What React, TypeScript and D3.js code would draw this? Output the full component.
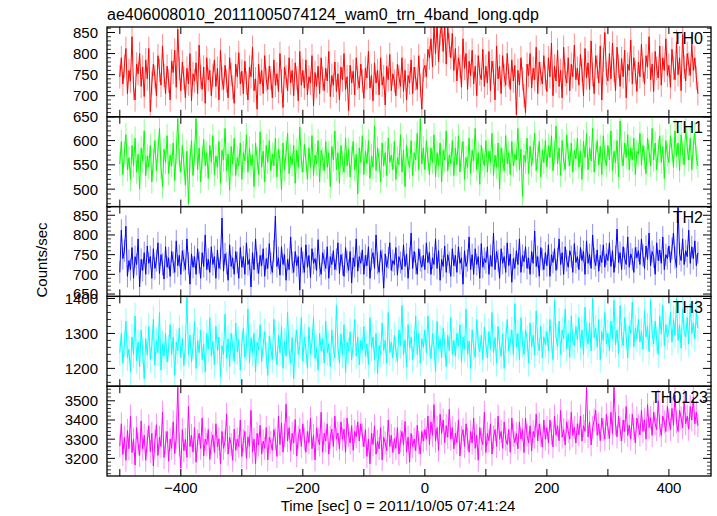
import React from 'react';
import * as d3 from 'd3';

// Time axis of the samples: first sample time and spacing (seconds)
const T_START = -500;
const T_STEP = 2.5;

const TH0 = [
  745, 790, 728, 770, 812, 705, 760, 735, 840, 718, 690, 775, 752, 800, 722, 768, 698, 785, 740, 812,
  662, 730, 775, 745, 700, 795, 760, 725, 818, 748, 705, 770, 735, 690, 782, 755, 808, 720, 858, 765,
  712, 780, 742, 695, 765, 728, 800, 688, 752, 735, 778, 705, 820, 745, 715, 768, 682, 790, 738, 760,
  700, 748, 785, 722, 765, 690, 808, 740, 715, 772, 735, 695, 790, 750, 720, 682, 775, 745, 802, 728,
  758, 705, 782, 730, 690, 768, 745, 815, 712, 740, 668, 775, 728, 760, 705, 795, 738, 715, 770, 742,
  695, 785, 725, 752, 710, 800, 735, 672, 768, 745, 712, 790, 730, 760, 700, 778, 742, 688, 805, 725,
  760, 718, 785, 702, 745, 730, 795, 676, 755, 722, 770, 705, 790, 740, 712, 765, 735, 805, 698, 748,
  725, 780, 710, 752, 690, 768, 738, 800, 715, 745, 665, 772, 730, 758, 702, 790, 742, 718, 775, 735,
  694, 765, 742, 805, 718, 748, 688, 778, 730, 760, 702, 790, 725, 745, 678, 770, 738, 798, 712, 752,
  735, 700, 775, 745, 722, 790, 710, 760, 690, 748, 730, 785, 705, 768, 740, 715, 795, 725, 668, 760,
  772, 745, 810, 790, 835, 768, 865, 800, 870, 780, 845, 868, 805, 870, 775, 862, 820, 790, 848, 760,
  812, 735, 790, 770, 720, 835, 765, 800, 715, 782, 748, 808, 728, 770, 700, 795, 752, 738, 810, 722,
  770, 730, 805, 712, 782, 755, 690, 818, 740, 770, 705, 795, 748, 725, 800, 748, 715, 785, 735, 772,
  655, 760, 725, 790, 740, 700, 660, 775, 748, 800, 718, 765, 738, 815, 705, 780, 752, 728, 795, 742,
  710, 790, 745, 825, 700, 770, 735, 808, 722, 760, 695, 815, 750, 730, 790, 712, 775, 745, 820, 738,
  765, 725, 798, 760, 700, 812, 742, 778, 715, 830, 750, 705, 795, 768, 730, 818, 690, 785, 850, 752,
  735, 800, 740, 825, 760, 712, 815, 770, 722, 788, 745, 808, 695, 775, 760, 832, 728, 790, 755, 710,
  780, 745, 822, 760, 728, 795, 768, 840, 738, 775, 710, 805, 765, 742, 818, 725, 790, 760, 835, 748,
  772, 720, 810, 765, 738, 828, 750, 790, 712, 845, 768, 735, 800, 775, 748, 822, 760, 790, 742, 705,
];

const TH1 = [
  552, 598, 530, 575, 612, 540, 565, 520, 590, 548, 605, 535, 572, 500, 585, 558, 620, 528, 568, 545,
  590, 515, 560, 600, 538, 578, 625, 545, 505, 582, 555, 610, 532, 570, 548, 595, 518, 575, 645, 560,
  535, 590, 552, 508, 578, 470, 560, 600, 528, 572, 645, 540, 585, 515, 565, 602, 548, 575, 522, 590,
  555, 610, 530, 568, 545, 598, 512, 580, 560, 625, 538, 572, 498, 588, 552, 605, 528, 565, 548, 595,
  520, 575, 558, 612, 535, 585, 548, 570, 505, 595, 562, 530, 618, 545, 578, 515, 590, 555, 600, 538,
  572, 548, 605, 525, 582, 560, 498, 595, 540, 575, 615, 532, 568, 550, 590, 512, 580, 545, 628, 558,
  535, 592, 560, 520, 585, 545, 610, 528, 570, 552, 600, 515, 580, 562, 538, 598, 545, 575, 505, 588,
  560, 620, 540, 575, 512, 590, 555, 535, 605, 548, 582, 525, 565, 598, 540, 572, 490, 585, 555, 610,
  530, 578, 552, 600, 522, 568, 545, 630, 538, 585, 560, 515, 595, 548, 575, 528, 605, 555, 570, 540,
  598, 520, 565, 550, 612, 535, 580, 505, 590, 558, 545, 600, 528, 575, 560, 615, 540, 645, 552, 585,
  540, 600, 562, 530, 585, 555, 612, 525, 575, 548, 595, 515, 580, 560, 620, 538, 570, 552, 600, 528,
  585, 550, 610, 535, 572, 598, 520, 565, 545, 605, 532, 580, 558, 625, 540, 575, 510, 590, 562, 548,
  600, 535, 578, 555, 615, 528, 570, 545, 595, 500, 585, 560, 538, 610, 552, 575, 530, 598, 548, 572,
  560, 625, 540, 582, 485, 570, 555, 605, 532, 588, 548, 575, 615, 538, 565, 598, 525, 580, 555, 600,
  545, 590, 565, 610, 538, 575, 630, 552, 585, 528, 600, 560, 540, 612, 570, 548, 595, 535, 580, 562,
  605, 545, 578, 520, 598, 565, 615, 540, 585, 558, 625, 535, 572, 600, 550, 588, 530, 610, 565, 548,
  590, 560, 620, 538, 578, 555, 600, 525, 640, 570, 548, 595, 565, 612, 540, 585, 560, 605, 530, 578,
  572, 615, 550, 590, 565, 532, 605, 578, 548, 625, 560, 595, 540, 580, 610, 555, 588, 522, 600, 570,
  555, 610, 580, 545, 620, 568, 595, 538, 612, 575, 550, 630, 585, 560, 605, 540, 590, 615, 565, 548,
];

const TH2 = [
  705, 812, 740, 760, 822, 695, 735, 712, 768, 690, 745, 725, 790, 668, 738, 710, 755, 700, 772, 728,
  745, 690, 765, 715, 735, 780, 702, 750, 725, 688, 770, 718, 742, 695, 758, 730, 705, 785, 722, 748,
  700, 760, 735, 712, 790, 728, 675, 752, 718, 745, 700, 765, 730, 690, 755, 720, 800, 712, 738, 705,
  770, 725, 745, 690, 762, 715, 740, 843, 708, 752, 728, 685, 775, 720, 742, 700, 758, 730, 690, 768,
  718, 745, 700, 780, 725, 738, 668, 755, 712, 790, 730, 702, 748, 722, 765, 695, 740, 715, 778, 728,
  705, 760, 848, 720, 742, 698, 770, 725, 750, 685, 738, 712, 795, 730, 705, 758, 722, 745, 660, 768,
  730, 705, 775, 718, 748, 692, 765, 728, 740, 710, 788, 722, 700, 755, 735, 715, 770, 690, 745, 725,
  760, 712, 738, 780, 702, 750, 725, 695, 768, 732, 710, 758, 678, 742, 720, 790, 708, 745, 728, 762,
  700, 748, 722, 770, 690, 738, 755, 715, 800, 728, 705, 760, 735, 665, 752, 718, 742, 780, 710, 735,
  725, 768, 698, 745, 730, 712, 775, 720, 752, 690, 740, 805, 715, 758, 728, 700, 765, 735, 718, 748,
  712, 780, 730, 755, 700, 742, 725, 790, 715, 760, 685, 738, 720, 772, 705, 750, 730, 695, 765, 722,
  748, 705, 770, 728, 742, 675, 760, 720, 735, 795, 712, 750, 700, 765, 725, 745, 690, 778, 718, 740,
  730, 770, 700, 748, 720, 805, 712, 758, 735, 690, 765, 728, 745, 705, 780, 722, 752, 680, 740, 715,
  760, 725, 790, 705, 748, 732, 770, 715, 742, 700, 758, 728, 810, 720, 745, 695, 768, 738, 712, 755,
  722, 775, 695, 750, 730, 765, 710, 740, 790, 725, 755, 700, 770, 735, 718, 760, 745, 705, 778, 730,
  745, 712, 768, 735, 758, 700, 785, 728, 750, 715, 800, 740, 722, 762, 708, 748, 730, 775, 718, 752,
  735, 780, 720, 760, 705, 745, 815, 730, 755, 712, 770, 740, 725, 795, 718, 752, 738, 705, 768, 742,
  760, 725, 790, 748, 715, 772, 738, 805, 722, 758, 745, 700, 780, 735, 762, 728, 795, 712, 750, 740,
  772, 730, 765, 805, 742, 718, 870, 752, 735, 790, 725, 760, 745, 812, 728, 770, 740, 785, 722, 755,
];

const TH3 = [
  1245, 1300, 1215, 1270, 1335, 1230, 1255, 1190, 1290, 1240, 1350, 1222, 1275, 1205, 1310, 1250, 1170, 1285, 1238, 1320,
  1225, 1265, 1340, 1210, 1280, 1245, 1360, 1195, 1270, 1235, 1300, 1218, 1258, 1325, 1240, 1290, 1180, 1275, 1250, 1315,
  1230, 1285, 1208, 1270, 1404, 1240, 1295, 1218, 1262, 1335, 1200, 1280, 1245, 1310, 1225, 1270, 1190, 1300, 1255, 1345,
  1235, 1278, 1210, 1320, 1250, 1290, 1175, 1265, 1240, 1355, 1228, 1285, 1205, 1300, 1260, 1220, 1330, 1248, 1282, 1195,
  1270, 1315, 1232, 1260, 1370, 1215, 1288, 1245, 1300, 1190, 1275, 1252, 1325, 1220, 1268, 1305, 1238, 1180, 1292, 1258,
  1225, 1340, 1262, 1210, 1295, 1245, 1320, 1200, 1278, 1235, 1360, 1250, 1215, 1288, 1170, 1272, 1310, 1240, 1265, 1345,
  1220, 1290, 1255, 1200, 1318, 1242, 1275, 1345, 1228, 1260, 1195, 1300, 1250, 1285, 1215, 1335, 1245, 1270, 1205, 1310,
  1255, 1230, 1380, 1262, 1215, 1298, 1240, 1325, 1188, 1275, 1250, 1305, 1225, 1268, 1340, 1235, 1290, 1210, 1280, 1252,
  1320, 1235, 1270, 1210, 1345, 1258, 1290, 1225, 1300, 1185, 1265, 1240, 1330, 1250, 1280, 1215, 1360, 1245, 1275, 1230,
  1295, 1252, 1220, 1310, 1265, 1380, 1238, 1282, 1205, 1325, 1258, 1290, 1225, 1270, 1350, 1240, 1300, 1215, 1285, 1260,
  1310, 1245, 1350, 1270, 1228, 1300, 1262, 1190, 1335, 1255, 1285, 1230, 1315, 1268, 1205, 1295, 1250, 1345, 1240, 1280,
  1235, 1300, 1265, 1325, 1218, 1290, 1255, 1370, 1240, 1278, 1200, 1310, 1262, 1232, 1340, 1270, 1248, 1295, 1225, 1318,
  1270, 1230, 1305, 1255, 1360, 1245, 1288, 1215, 1320, 1265, 1235, 1298, 1200, 1282, 1340, 1250, 1275, 1310, 1240, 1385,
  1260, 1300, 1225, 1345, 1270, 1240, 1310, 1285, 1215, 1330, 1262, 1295, 1238, 1365, 1275, 1250, 1320, 1230, 1290, 1268,
  1305, 1250, 1340, 1280, 1225, 1395, 1290, 1262, 1335, 1240, 1310, 1285, 1370, 1255, 1300, 1232, 1350, 1275, 1265, 1320,
  1282, 1345, 1260, 1310, 1240, 1375, 1295, 1270, 1330, 1250, 1400, 1288, 1315, 1262, 1340, 1225, 1305, 1280, 1360, 1270,
  1300, 1250, 1335, 1285, 1395, 1268, 1310, 1242, 1380, 1295, 1265, 1345, 1290, 1230, 1322, 1300, 1390, 1262, 1315, 1285,
  1340, 1275, 1305, 1255, 1365, 1290, 1320, 1248, 1395, 1300, 1270, 1335, 1282, 1240, 1350, 1298, 1380, 1265, 1325, 1290,
  1310, 1360, 1275, 1340, 1295, 1400, 1280, 1325, 1258, 1370, 1305, 1290, 1345, 1270, 1385, 1300, 1330, 1285, 1360, 1315,
];

const TH0123 = [
  3265, 3380, 3220, 3310, 3190, 3345, 3250, 3420, 3230, 3300, 3165, 3360, 3275, 3215, 3395, 3248, 3320, 3190, 3290, 3370,
  3235, 3330, 3160, 3290, 3375, 3215, 3310, 3262, 3440, 3205, 3282, 3340, 3185, 3300, 3252, 3390, 3225, 3310, 3570, 3270,
  3150, 3350, 3240, 3298, 3205, 3470, 3262, 3320, 3232, 3360, 3180, 3290, 3330, 3252, 3410, 3212, 3300, 3272, 3350, 3195,
  3280, 3322, 3230, 3380, 3260, 3302, 3170, 3340, 3252, 3290, 3430, 3222, 3310, 3272, 3190, 3352, 3242, 3300, 3262, 3400,
  3210, 3292, 3340, 3200, 3312, 3262, 3450, 3232, 3300, 3172, 3330, 3270, 3372, 3222, 3290, 3252, 3360, 3192, 3310, 3282,
  3242, 3350, 3300, 3210, 3420, 3272, 3385, 3232, 3320, 3482, 3292, 3360, 3240, 3330, 3280, 3402, 3212, 3310, 3352, 3262,
  3380, 3300, 3232, 3340, 3282, 3410, 3250, 3320, 3192, 3360, 3300, 3270, 3440, 3232, 3330, 3290, 3380, 3222, 3310, 3352,
  3262, 3420, 3300, 3332, 3250, 3390, 3300, 3352, 3232, 3410, 3320, 3280, 3370, 3242, 3340, 3312, 3390, 3290, 3380, 3322,
  3260, 3350, 3210, 3300, 3172, 3330, 3272, 3370, 3222, 3290, 3250, 3360, 3192, 3310, 3280, 3240, 3400, 3262, 3320, 3230,
  3302, 3252, 3360, 3222, 3290, 3340, 3270, 3392, 3232, 3310, 3180, 3330, 3262, 3300, 3240, 3372, 3282, 3222, 3340, 3290,
  3350, 3300, 3420, 3272, 3390, 3320, 3480, 3290, 3360, 3242, 3430, 3330, 3400, 3282, 3370, 3310, 3455, 3300, 3360, 3250,
  3330, 3282, 3400, 3212, 3310, 3350, 3262, 3380, 3300, 3232, 3340, 3280, 3410, 3252, 3320, 3190, 3360, 3300, 3272, 3440,
  3230, 3330, 3292, 3380, 3222, 3310, 3350, 3262, 3420, 3300, 3340, 3252, 3390, 3300, 3272, 3350, 3232, 3410, 3320, 3282,
  3330, 3250, 3390, 3300, 3350, 3230, 3410, 3320, 3280, 3370, 3240, 3340, 3310, 3430, 3290, 3380, 3320, 3260, 3400, 3300,
  3360, 3280, 3400, 3330, 3260, 3420, 3320, 3370, 3292, 3450, 3310, 3350, 3270, 3390, 3340, 3300, 3440, 3320, 3362, 3280,
  3380, 3322, 3420, 3290, 3370, 3340, 3570, 3312, 3390, 3270, 3360, 3400, 3450, 3320, 3380, 3292, 3410, 3350, 3300, 3430,
  3360, 3302, 3440, 3330, 3570, 3380, 3312, 3420, 3350, 3290, 3400, 3340, 3470, 3320, 3372, 3300, 3430, 3352, 3280, 3410,
  3370, 3322, 3450, 3340, 3400, 3300, 3480, 3360, 3412, 3320, 3440, 3380, 3350, 3500, 3370, 3320, 3420, 3390, 3340, 3470,
  3400, 3350, 3460, 3372, 3530, 3390, 3340, 3450, 3410, 3360, 3500, 3380, 3420, 3352, 3470, 3400, 3520, 3380, 3440, 3370,
];

const SERIES = [TH0, TH1, TH2, TH3, TH0123];
// Typical 1-sigma error bar half-length for each band (counts/sec)
const ERRORS = [28, 24, 28, 38, 60];
const PANEL_NAMES = ['TH0', 'TH1', 'TH2', 'TH3', 'TH0123'];
const Y_DOMAINS: [number, number][] = [
  [650, 863],
  [464, 649],
  [644, 872],
  [1149, 1406],
  [3108, 3576],
];
const Y_MAJOR = [50, 50, 50, 100, 100];
const Y_MINOR = [10, 10, 10, 20, 20];
const X_DOMAIN: [number, number] = [-521, 469];
const X_MAJOR = [-500, -400, -300, -200, -100, 0, 100, 200, 300, 400];
const X_LABELS = [-400, -200, 0, 200, 400];

const TITLE = 'ae406008010_20111005074124_wam0_trn_4band_long.qdp';
const X_TITLE = 'Time [sec] 0 = 2011/10/05 07:41:24';
const Y_TITLE = 'Counts/sec';

const COLORS = ['#ff0000', '#00ff00', '#0000ff', '#00ffff', '#ff00ff'];
const LABEL_END = [703, 703, 703, 703, 708];

const W = 717;
const H = 516;
const LEFT = 107;
const RIGHT = 711;
const TOP = 27;
const BOTTOM = 476;
const FONT = '"Liberation Sans", Arial, Helvetica, sans-serif';

export default function App() {
  const x = d3.scaleLinear().domain(X_DOMAIN).range([LEFT, RIGHT]);
  const panelH = (BOTTOM - TOP) / SERIES.length;
  const minus = (v: number) => (v < 0 ? '\u2212' + Math.abs(v) : String(v));

  return (
    <svg
      width={W}
      height={H}
      style={{ position: 'absolute', left: 0, top: 0, background: '#fff' }}
      fontFamily={FONT}
    >
      <rect x={0} y={0} width={W} height={H} fill="#fff" />
      <defs>
        {SERIES.map((_, i) => (
          <clipPath id={`clip${i}`} key={i}>
            <rect x={LEFT} y={TOP + i * panelH} width={RIGHT - LEFT} height={panelH} />
          </clipPath>
        ))}
      </defs>
      <text x={LEFT} y={20} fontSize={16} fill="#000">
        {TITLE}
      </text>
      {SERIES.map((vals, i) => {
        const y0 = TOP + i * panelH;
        const y1 = y0 + panelH;
        const y = d3.scaleLinear().domain(Y_DOMAINS[i]).range([y1, y0]);
        const line = d3
          .line<number>()
          .x((_, k) => x(T_START + k * T_STEP))
          .y((v) => y(v));
        const [d0, d1] = Y_DOMAINS[i];
        const majors = d3.range(Math.ceil(d0 / Y_MAJOR[i]) * Y_MAJOR[i], d1 + 0.001, Y_MAJOR[i]);
        const minors = d3
          .range(Math.ceil(d0 / Y_MINOR[i]) * Y_MINOR[i], d1 + 0.001, Y_MINOR[i])
          .filter((v) => v % Y_MAJOR[i] !== 0);
        const err = ERRORS[i];
        const errPath = vals
          .map((v, k) => {
            const px = x(T_START + k * T_STEP);
            return `M${px.toFixed(2)},${y(v + err).toFixed(2)}V${y(v - err).toFixed(2)}`;
          })
          .join('');
        return (
          <g key={i}>
            <g clipPath={`url(#clip${i})`}>
              <path d={errPath} fill="none" stroke={COLORS[i]} strokeWidth={1} strokeOpacity={0.45} />
              <path d={line(vals) || ''} fill="none" stroke={COLORS[i]} strokeWidth={1} />
            </g>
            {majors.map((v) => (
              <g key={'M' + v}>
                <line x1={LEFT} x2={LEFT + 8} y1={y(v)} y2={y(v)} stroke="#000" strokeWidth={1} />
                <line x1={RIGHT} x2={RIGHT - 8} y1={y(v)} y2={y(v)} stroke="#000" strokeWidth={1} />
                <text x={98} y={y(v)} dy="0.36em" textAnchor="end" fontSize={15} fill="#000">
                  {v}
                </text>
              </g>
            ))}
            {minors.map((v) => (
              <g key={'m' + v}>
                <line x1={LEFT} x2={LEFT + 4} y1={y(v)} y2={y(v)} stroke="#000" strokeWidth={0.8} />
                <line x1={RIGHT} x2={RIGHT - 4} y1={y(v)} y2={y(v)} stroke="#000" strokeWidth={0.8} />
              </g>
            ))}
            {X_MAJOR.map((t) => (
              <g key={'x' + t}>
                <line x1={x(t)} x2={x(t)} y1={y0} y2={y0 + 7} stroke="#000" strokeWidth={1} />
                <line x1={x(t)} x2={x(t)} y1={y1} y2={y1 - 7} stroke="#000" strokeWidth={1} />
              </g>
            ))}
            <rect
              x={LEFT}
              y={y0}
              width={RIGHT - LEFT}
              height={panelH}
              fill="none"
              stroke="#000"
              strokeWidth={1.3}
            />
            <text x={LABEL_END[i]} y={y0 + 16.5} textAnchor="end" fontSize={16} fill="#000">
              {PANEL_NAMES[i]}
            </text>
          </g>
        );
      })}
      {X_LABELS.map((t) => (
        <text key={t} x={x(t)} y={493} textAnchor="middle" fontSize={15} fill="#000">
          {minus(t)}
        </text>
      ))}
      <text x={398} y={511} textAnchor="middle" fontSize={15} fill="#000">
        {X_TITLE}
      </text>
      <text
        transform={`translate(47, 260) rotate(-90)`}
        textAnchor="middle"
        fontSize={15}
        fill="#000"
      >
        {Y_TITLE}
      </text>
    </svg>
  );
}
